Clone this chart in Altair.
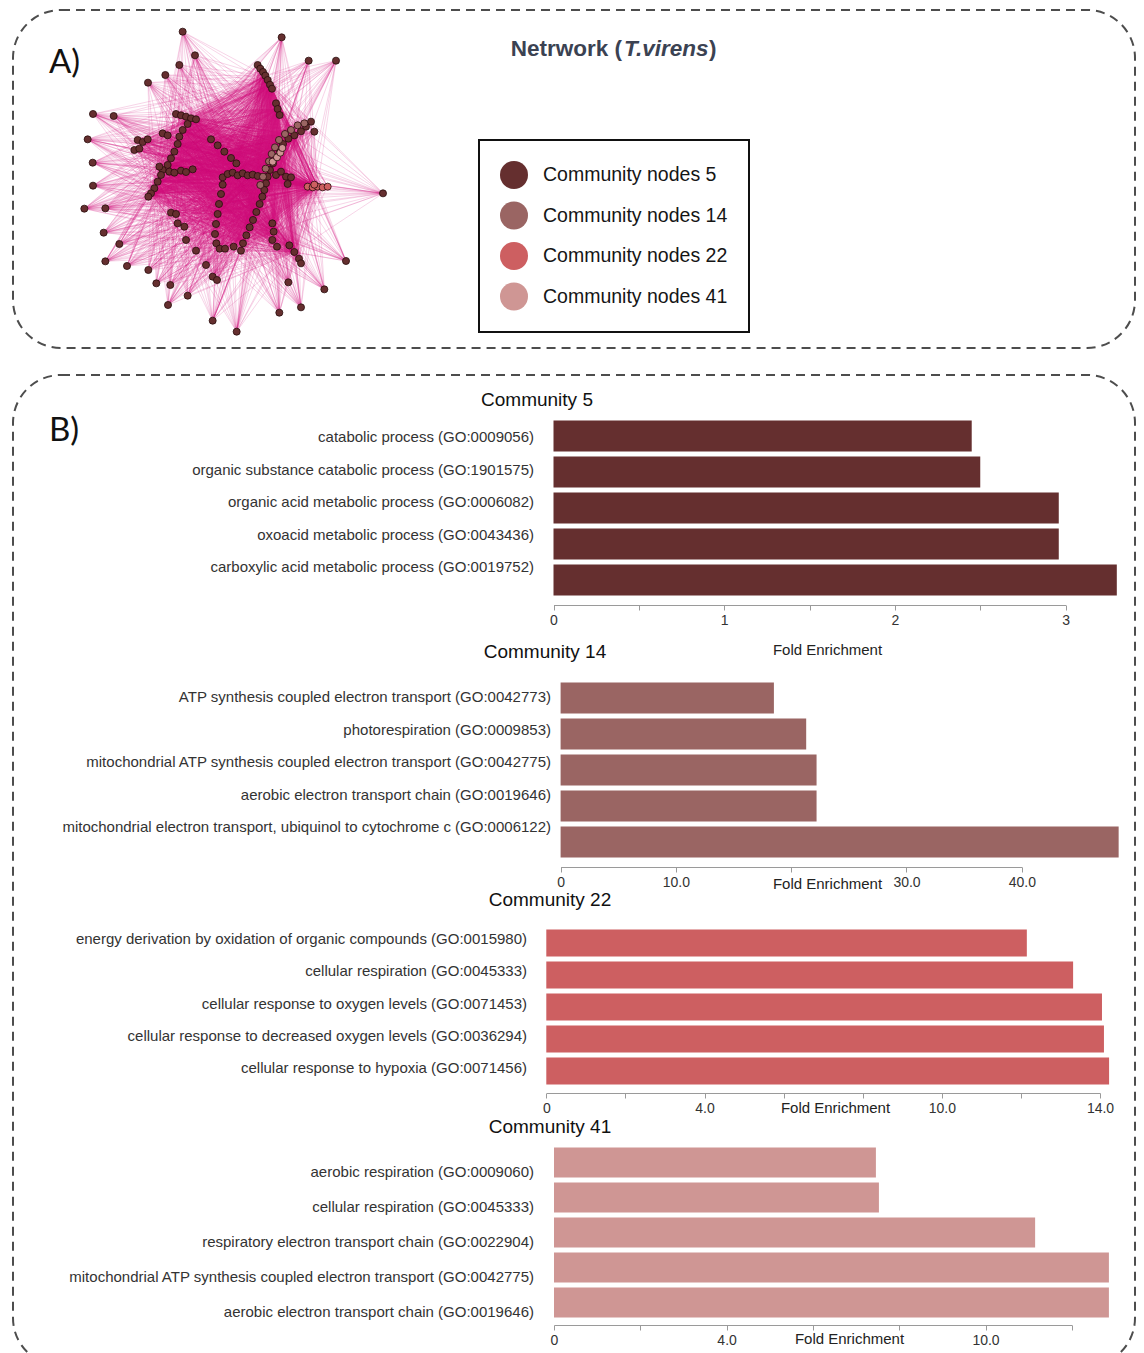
import altair as alt
import pandas as pd

FONT = "Liberation Sans"
FRAME_COLOR = "#4d4d4d"
FRAME_DASH = [9, 6]
PANEL_W = 1122

# ---------------------------------------------------------------- panel A
legend_labels = ["Community nodes 5", "Community nodes 14",
                 "Community nodes 22", "Community nodes 41"]
community_colors = ["#652f2f", "#9a6563", "#cd5f61", "#cf9694"]

# peripheral nodes (layout coordinates)
outer_x = [33.5, 63.2, 37.2, 32.5, 71.3, 79.5, 28.3, 23.1, 6.6, 12.8, 5.0, 6.5, 6.6, 4.0, 10.3,
           9.8, 14.5, 10.3, 16.8, 23.2, 25.6, 29.8, 35.0, 29.1, 42.5, 49.7, 62.5, 69.0, 65.2, 76.0,
           82.5, 93.6, 40.5, 37.5, 34.5, 32.0, 73.0, 65.0, 42.5, 43.8]
outer_y = [3.5, 5.2, 10.6, 13.5, 12.2, 12.2, 16.5, 18.8, 28.2, 28.8, 35.8, 42.8, 49.7, 56.6, 56.5,
           63.8, 67.2, 72.4, 73.8, 75.0, 79.0, 79.5, 82.7, 85.5, 90.2, 93.5, 87.8, 86.2, 78.7, 80.8,
           72.3, 52.0, 73.5, 69.2, 66.0, 61.0, 33.5, 49.2, 77.0, 78.0]

# left module
left_x = [31.5, 33.0, 34.5, 36.0, 37.5, 35.0, 33.5, 32.5, 32.0, 31.0, 30.0, 29.0, 27.5, 26.5, 27.0,
          26.0, 25.0, 24.0, 23.2, 29.5, 31.0, 33.0, 34.5, 36.5, 20.0, 21.5, 23.0, 19.0, 20.5, 27.5,
          29.0, 30.0, 31.5, 34.0]
left_y = [28.2, 28.6, 29.0, 29.5, 29.8, 31.2, 33.0, 35.0, 37.2, 39.5, 41.5, 43.5, 45.0, 44.0, 46.5,
          48.5, 50.5, 52.0, 53.0, 45.5, 45.8, 45.2, 45.6, 44.8, 36.0, 36.6, 35.8, 39.0, 38.6, 34.0,
          34.6, 57.8, 58.2, 62.0]

# upper chain
top_x = [56.0, 56.8, 57.6, 58.3, 59.0, 59.7, 60.3, 61.5, 62.0, 62.6]
top_y = [13.5, 14.6, 15.6, 16.7, 18.0, 19.4, 20.6, 25.0, 26.7, 28.5]

# central H-shaped module
h_x = [42.0, 44.0, 46.0, 48.0, 49.6, 45.5, 47.0, 48.5, 50.0, 51.5, 53.0, 54.5, 56.0, 45.5, 45.0,
       44.4, 44.0, 43.5, 43.2, 43.6, 44.6, 46.2, 48.8]
h_y = [35.8, 37.6, 39.5, 41.4, 43.0, 47.2, 46.2, 45.8, 46.6, 46.0, 46.6, 46.4, 46.8, 49.4, 52.2,
       55.2, 58.2, 61.2, 64.2, 67.0, 68.6, 68.6, 68.0]

# diagonal module
diag_x = [72.0, 70.5, 69.0, 67.0, 65.2, 63.6, 62.6, 61.6, 60.6, 59.7, 59.0, 58.5, 58.0, 57.4, 56.6,
          55.6, 54.6, 53.6, 52.6, 51.6, 51.0]
diag_y = [30.5, 32.0, 33.4, 34.6, 35.6, 37.2, 39.0, 41.0, 43.0, 45.0, 47.0, 49.0, 51.0, 53.0, 55.2,
          57.6, 60.0, 62.2, 64.6, 67.0, 69.2]
par_x = [70.0, 68.0, 66.0, 64.2, 62.4, 61.2, 60.2, 59.4, 58.4, 57.6, 56.8]
par_y = [31.0, 31.6, 33.0, 34.2, 36.0, 38.2, 40.2, 42.4, 44.6, 47.0, 49.5]
branch_x = [61.5, 63.0, 64.5, 66.0]
branch_y = [46.5, 45.5, 47.0, 47.2]
rc_x = [71.0, 72.5, 74.0, 75.5, 77.0, 73.0]
rc_y = [50.0, 50.2, 50.0, 50.2, 50.0, 49.4]
lr_x = [60.4, 60.8, 60.4, 61.8, 65.5, 67.0, 68.4, 69.0]
lr_y = [61.0, 63.5, 66.0, 68.0, 67.6, 69.6, 71.6, 73.0]
light_x = [60.5, 61.8, 62.8, 63.4]
light_y = [42.5, 41.2, 39.8, 38.4]

# hub genes every node is linked to
hub_x = [32.0, 26.0, 58.3, 48.5, 56.0, 44.0, 67.0, 59.0, 53.6, 74.0, 67.0, 62.0, 36.0, 51.6,
         29.0, 33.5, 46.0, 44.4, 63.6, 61.6, 57.4, 55.6, 60.8, 72.5, 24.0, 59.7]
hub_y = [37.2, 48.5, 16.7, 45.8, 46.8, 58.2, 34.6, 47.0, 62.2, 50.0, 69.6, 26.7, 29.5, 67.0,
         43.5, 33.0, 39.5, 55.2, 37.2, 41.0, 53.0, 57.6, 63.5, 50.2, 52.0, 19.4]

groups = [
    (outer_x, outer_y, 0), (left_x, left_y, 0), (top_x, top_y, 0), (h_x, h_y, 0),
    (diag_x, diag_y, 0), (par_x, par_y, 1), (branch_x, branch_y, 0), (rc_x, rc_y, 2),
    (lr_x, lr_y, 0), (light_x, light_y, 3),
]
node_rows = []
for xs, ys, c in groups:
    for x, y in zip(xs, ys):
        node_rows.append({"x": x, "y": y, "community": legend_labels[c]})
nodes = pd.DataFrame(node_rows)
edges = pd.DataFrame([
    {"x": n["x"], "y": n["y"], "x2": hx, "y2": hy}
    for n in node_rows for hx, hy in zip(hub_x, hub_y)
    if (n["x"], n["y"]) != (hx, hy)
])

net_x = alt.Scale(domain=[-17.4, 319.2], nice=False, zero=False)
net_y = alt.Scale(domain=[-3, 98.4], nice=False, zero=False, reverse=True)


def label(text, x, y, size, weight="normal", style="normal", align="left",
          baseline="alphabetic", color="#111111", font=FONT):
    return alt.Chart(pd.DataFrame({"t": [text]})).mark_text(
        align=align, baseline=baseline, font=font, fontSize=size,
        fontWeight=weight, fontStyle=style, color=color,
    ).encode(x=alt.value(x), y=alt.value(y), text="t:N")


edge_layer = alt.Chart(edges).mark_rule(color="#d3127c", opacity=0.2, strokeWidth=0.9).encode(
    x=alt.X("x:Q", scale=net_x, axis=None),
    y=alt.Y("y:Q", scale=net_y, axis=None),
    x2="x2:Q", y2="y2:Q",
)
node_layer = alt.Chart(nodes).mark_circle(size=50, opacity=1, stroke="#2a0c0c", strokeWidth=0.8).encode(
    x=alt.X("x:Q", scale=net_x, axis=None),
    y=alt.Y("y:Q", scale=net_y, axis=None),
    color=alt.Color(
        "community:N",
        scale=alt.Scale(domain=legend_labels, range=community_colors),
        legend=alt.Legend(
            orient="none", legendX=466, legendY=130, title=None, direction="vertical",
            symbolType="circle", symbolSize=784, symbolStrokeWidth=0, symbolOpacity=1,
            labelFont=FONT, labelFontSize=19.5, labelColor="#151515", labelOffset=15,
            labelLimit=400, rowPadding=12.5, padding=21, strokeColor="#111111",
        ),
    ),
)

title_color = "#3b4252"
panel_a = alt.layer(
    edge_layer,
    node_layer,
    label("A)", 36, 63, 33, font="Lato"),
    label("Netrwork (", 609, 39, 22.5, weight="bold", align="right", baseline="middle", color=title_color),
    label("T.virens", 611, 39, 22.5, weight="bold", style="italic", baseline="middle", color=title_color),
    label(")", 696, 39, 22.5, weight="bold", baseline="middle", color=title_color),
).properties(
    width=PANEL_W, height=338,
    view=alt.ViewBackground(stroke=FRAME_COLOR, strokeWidth=2, strokeDash=FRAME_DASH, cornerRadius=48),
)

# ---------------------------------------------------------------- panel B
c5_terms = ["catabolic process (GO:0009056)",
            "organic substance catabolic process (GO:1901575)",
            "organic acid metabolic process (GO:0006082)",
            "oxoacid metabolic process (GO:0043436)",
            "carboxylic acid metabolic process (GO:0019752)"]
c5_values = [2.45, 2.50, 2.96, 2.96, 3.30]
c5_ticks = [0, 0.5, 1, 1.5, 2, 2.5, 3]
c5_shown = [0, 1, 2, 3]

c14_terms = ["ATP synthesis coupled electron transport (GO:0042773)",
             "photorespiration (GO:0009853)",
             "mitochondrial ATP synthesis coupled electron transport (GO:0042775)",
             "aerobic electron transport chain (GO:0019646)",
             "mitochondrial electron transport, ubiquinol to cytochrome c (GO:0006122)"]
c14_values = [18.5, 21.3, 22.2, 22.2, 48.4]
c14_ticks = [0, 10, 20, 30, 40]
c14_shown = [0, 10, 30, 40]

c22_terms = ["energy derivation by oxidation of organic compounds (GO:0015980)",
             "cellular respiration (GO:0045333)",
             "cellular response to oxygen levels (GO:0071453)",
             "cellular response to decreased oxygen levels (GO:0036294)",
             "cellular response to hypoxia (GO:0071456)"]
c22_values = [12.15, 13.32, 14.05, 14.10, 14.23]
c22_ticks = [0, 2, 4, 6, 8, 10, 12, 14]
c22_shown = [0, 4, 10, 14]

c41_terms = ["aerobic respiration (GO:0009060)",
             "cellular respiration (GO:0045333)",
             "respiratory electron transport chain (GO:0022904)",
             "mitochondrial ATP synthesis coupled electron transport (GO:0042775)",
             "aerobic electron transport chain (GO:0019646)"]
c41_values = [7.46, 7.53, 11.15, 12.86, 12.86]
c41_ticks = [0, 2, 4, 6, 8, 10, 12]
c41_shown = [0, 4, 10]


def community_chart(name, terms, values, color, band, bar_pad, label_span, label_right,
                    x_zero, px_per_unit, x_max, ticks, shown, fmt, axis_offset,
                    heading_pos, axis_title_pos, extra=()):
    df = pd.DataFrame({"term": terms, "value": values})
    label_expr = (f"indexof({shown}, datum.value) < 0 ? '' : "
                  f"(datum.value == 0 ? '0' : format(datum.value, '{fmt}'))")
    bars = alt.Chart(df).mark_bar(color=color).encode(
        x=alt.X(
            "value:Q",
            scale=alt.Scale(domain=[0, x_max], range=[x_zero, x_zero + x_max * px_per_unit],
                            nice=False, zero=True),
            axis=alt.Axis(
                values=ticks, labelExpr=label_expr, title="Fold Enrichment", offset=axis_offset,
                titleX=axis_title_pos[0], titleY=axis_title_pos[1], titleAlign="center",
                titleBaseline="middle", titleAngle=0, titleFont=FONT, titleFontSize=15,
                titleFontWeight="normal", titleColor="#222222", labelFont=FONT, labelFontSize=14,
                labelColor="#333333", labelFlush=False, labelOverlap=False, labelPadding=3,
                tickColor="#9a9a9a", domainColor="#9a9a9a", tickSize=5, grid=False,
            ),
        ),
        y=alt.Y("term:N", sort=terms,
                scale=alt.Scale(range=band, paddingInner=bar_pad, paddingOuter=bar_pad / 2),
                axis=None),
    )
    names = alt.Chart(df).mark_text(
        align="right", baseline="middle", font=FONT, fontSize=15, color="#333333",
    ).encode(
        y=alt.Y("term:N", sort=terms,
                scale=alt.Scale(type="point", range=label_span, padding=0), axis=None),
        x=alt.value(label_right),
        text="term:N",
    )
    heading = label(name, heading_pos[0], heading_pos[1], 19, align="center", baseline="middle")
    return alt.layer(*extra, bars, names, heading).resolve_scale(y="independent").properties(
        width=PANEL_W, height=band[1]
    )


frame_b = alt.Chart(pd.DataFrame({"k": [0]})).mark_rect(
    fillOpacity=0, stroke=FRAME_COLOR, strokeWidth=2, strokeDash=FRAME_DASH, cornerRadius=48,
).encode(x=alt.value(0), x2=alt.value(PANEL_W), y=alt.value(27), y2=alt.value(1018))

c5 = community_chart("Community 5", c5_terms, c5_values, "#652f2f", [70, 250], 0.14, [89, 219], 521,
                     540.5, 170.7, 3, c5_ticks, c5_shown, ".0f", 7, (524, 52), (814, 44),
                     extra=(frame_b, label("B)", 36, 93, 33, font="Lato")))
c14 = community_chart("Community 14", c14_terms, c14_values, "#9a6563", [82, 262], 0.14, [99, 229], 538,
                      547.6, 11.53, 40, c14_ticks, c14_shown, ".1f", 7, (532, 54), (814, 16))
c22 = community_chart("Community 22", c22_terms, c22_values, "#cd5f61", [67, 227], 0.156, [79, 208], 514,
                      533.3, 39.55, 14, c22_ticks, c22_shown, ".1f", 6, (537, 40), (822, 14))
c41 = community_chart("Community 41", c41_terms, c41_values, "#cf9694", [58, 233], 0.143, [85, 225], 521,
                      541, 43.15, 12, c41_ticks, c41_shown, ".1f", 5, (537, 40), (836, 13))

chart = alt.vconcat(panel_a, c5, c14, c22, c41, spacing=0, bounds="flush").properties(
    padding={"left": 11, "top": 9, "right": 0, "bottom": 0},
    background="white",
).configure_view(stroke="transparent").configure_legend(strokeWidth=2)

chart.save("out.html", embed_options={"renderer": "svg", "actions": False})
